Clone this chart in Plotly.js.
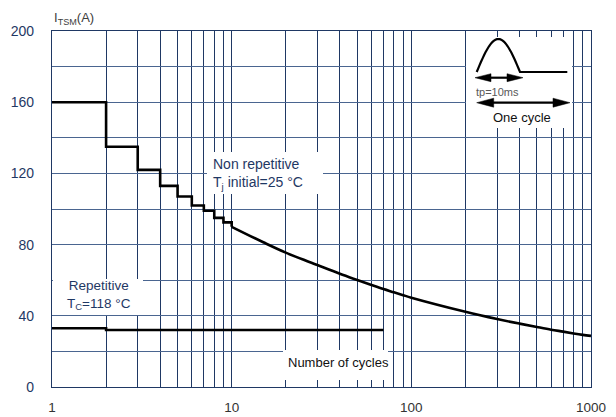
<!DOCTYPE html>
<html>
<head>
<meta charset="utf-8">
<script src="https://cdn.plot.ly/plotly-3.0.1.min.js"></script>
<style>html,body{margin:0;padding:0;background:#fff;}#chart{width:616px;height:417px;}</style>
</head>
<body>
<div id="chart"></div>
<script>
// ---- data ----
const stepCycles = [1, 2, 3, 4, 5, 6, 7, 8, 9, 10];
const stepCurrent = [160, 135, 122, 113, 107, 102, 99, 95, 92.5, 90];
const curveCycles = [10, 15, 20, 30, 40, 50, 60, 70, 80, 90, 100, 200, 300, 400, 500, 600, 700, 800, 900, 1000];
const curveCurrent = [90, 81.3, 75.5, 68.5, 63.6, 60.1, 57.3, 55, 53.2, 51.6, 50.2, 42.3, 38.2, 35.6, 33.7, 32.2, 31.1, 30.1, 29.3, 28.7];
const repCycles = [1, 2, 70];
const repCurrent = [33, 32, 32];
const xGrid = [1,2,3,4,5,6,7,8,9,10,20,30,40,50,60,70,80,90,100,200,300,400,500,600,700,800,900,1000];
const xLabels = xGrid.map(v => [1,10,100,1000].includes(v) ? String(v) : '');
const yGrid = [0,20,40,60,80,100,120,140,160,180,200];
const yLabels = yGrid.map(v => v % 40 === 0 ? String(v) : '');

// ---- layout helpers (pixel -> paper) ----
const L = 52, R = 591, T = 31, B = 387;
const px = x => (x - L) / (R - L);
const py = y => (B - y) / (B - T);

const navy = '#1f3864';
const black = '#000';

function rect(x0, y0, x1, y1) {
  return {type: 'rect', xref: 'paper', yref: 'paper', x0: px(x0), x1: px(x1), y0: py(y1), y1: py(y0),
          fillcolor: '#fff', line: {width: 0}, layer: 'above'};
}
function poly(pts, closed, fill) {
  let d = 'M ' + pts.map(p => px(p[0]).toFixed(5) + ',' + py(p[1]).toFixed(5)).join(' L ');
  if (closed) d += ' Z';
  return {type: 'path', xref: 'paper', yref: 'paper', path: d,
          fillcolor: fill ? black : 'rgba(0,0,0,0)', line: {color: black, width: closed ? 0.5 : 2.2}, layer: 'above'};
}
function dblArrow(x0, x1, y, hl, hw) {
  return [
    poly([[x0 + hl - 2, y], [x1 - hl + 2, y]], false, false),
    poly([[x0, y], [x0 + hl, y - hw], [x0 + hl, y + hw]], true, true),
    poly([[x1, y], [x1 - hl, y - hw], [x1 - hl, y + hw]], true, true)
  ];
}
// pulse illustration
const pulsePts = [];
for (let i = 0; i <= 30; i++) {
  const t = i / 30;
  pulsePts.push([476.7 + t * (520 - 476.7), 72 - 33 * Math.sin(Math.PI * t)]);
}
pulsePts.push([567.3, 72]);

const shapes = [
  rect(466, 37, 572, 128),
  rect(207, 152, 323, 194),
  rect(53, 279, 143, 315),
  rect(283, 350, 388, 380),
  poly(pulsePts, false, false),
  ...dblArrow(475, 523, 77.7, 16, 4),
  ...dblArrow(476.7, 570, 102.7, 17, 4.5)
];

const font = 'Liberation Sans, Arial, sans-serif';
const annotations = [
  {xref: 'paper', yref: 'paper', x: px(52), y: py(18), xanchor: 'left', yanchor: 'middle', showarrow: false,
   text: 'I<sub>TSM</sub>(A)', font: {family: font, size: 13, color: '#404040'}},
  {xref: 'paper', yref: 'paper', x: px(211), y: py(174), xanchor: 'left', yanchor: 'middle', align: 'left', showarrow: false,
   text: 'Non repetitive<br>T<sub>j</sub> initial=25 °C', font: {family: font, size: 14, color: navy}},
  {xref: 'paper', yref: 'paper', x: px(99), y: py(294.5), xanchor: 'center', yanchor: 'middle', align: 'center', showarrow: false,
   text: 'Repetitive<br>T<sub>C</sub>=118 °C', font: {family: font, size: 13.5, color: navy}},
  {xref: 'paper', yref: 'paper', x: px(338), y: py(362), xanchor: 'center', yanchor: 'middle', showarrow: false,
   text: 'Number of cycles', font: {family: font, size: 13, color: '#111'}},
  {xref: 'paper', yref: 'paper', x: px(497.5), y: py(91.7), xanchor: 'center', yanchor: 'middle', showarrow: false,
   text: 'tp=10ms', font: {family: font, size: 11, color: '#595959'}},
  {xref: 'paper', yref: 'paper', x: px(521.7), y: py(117.3), xanchor: 'center', yanchor: 'middle', showarrow: false,
   text: 'One cycle', font: {family: font, size: 13, color: '#111'}}
];

const lineStyle = {color: black, width: 2.6};
const traces = [
  {x: stepCycles, y: stepCurrent, type: 'scatter', mode: 'lines', line: Object.assign({shape: 'hv'}, lineStyle), hoverinfo: 'skip'},
  {x: curveCycles, y: curveCurrent, type: 'scatter', mode: 'lines', line: Object.assign({shape: 'spline', smoothing: 1}, lineStyle), hoverinfo: 'skip'},
  {x: repCycles, y: repCurrent, type: 'scatter', mode: 'lines', line: Object.assign({shape: 'hv'}, lineStyle), hoverinfo: 'skip'}
];

const layout = {
  width: 616, height: 417,
  margin: {l: L, r: 616 - R, t: T, b: 417 - B, pad: 0},
  paper_bgcolor: '#fff', plot_bgcolor: '#fff',
  showlegend: false,
  font: {family: font},
  xaxis: {
    type: 'log', range: [0, 3], tickmode: 'array', tickvals: xGrid, ticktext: xLabels,
    showgrid: true, gridcolor: '#1f3864', gridwidth: 1, zeroline: false,
    showline: true, linecolor: '#1f3864', linewidth: 1.2, mirror: true,
    ticks: '', ticklabelstandoff: 8,
    tickfont: {family: font, size: 13.5, color: '#333'}, fixedrange: true
  },
  yaxis: {
    range: [0, 200], tickmode: 'array', tickvals: yGrid, ticktext: yLabels,
    showgrid: true, gridcolor: '#4a6590', gridwidth: 1, zeroline: false,
    showline: true, linecolor: '#1f3864', linewidth: 1.2, mirror: true,
    ticks: '', ticklabelstandoff: 14,
    tickfont: {family: font, size: 14, color: navy}, fixedrange: true
  },
  shapes: shapes,
  annotations: annotations
};

Plotly.newPlot('chart', traces, layout, {staticPlot: true, displayModeBar: false});
</script>
</body>
</html>
